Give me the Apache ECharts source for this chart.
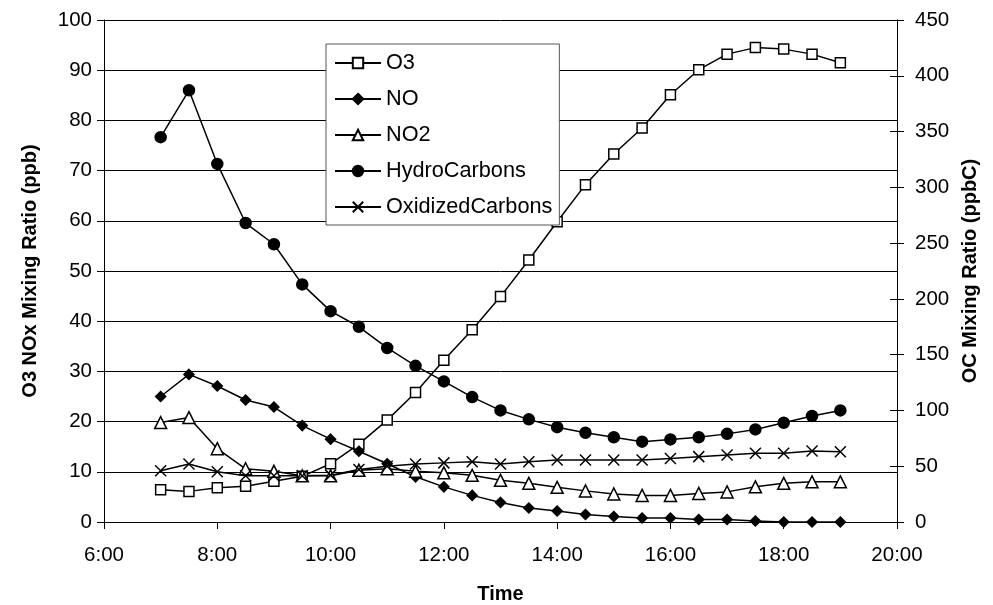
<!DOCTYPE html>
<html>
<head>
<meta charset="utf-8">
<script src="https://cdn.jsdelivr.net/npm/echarts@6/dist/echarts.min.js"></script>
<style>html,body{margin:0;padding:0;background:#fff}#c{width:993px;height:605px}</style>
</head>
<body>
<div id="c"></div>
<script>
const times = ['7:00','7:30','8:00','8:30','9:00','9:30','10:00','10:30','11:00','11:30','12:00','12:30','13:00','13:30','14:00','14:30','15:00','15:30','16:00','16:30','17:00','17:30','18:00','18:30','19:00'];
const o3 = [6.4, 6.1, 6.8, 7.1, 8.1, 9.1, 11.6, 15.5, 20.3, 25.8, 32.2, 38.3, 44.9, 52.2, 59.8, 67.2, 73.3, 78.5, 85.1, 90.1, 93.2, 94.5, 94.2, 93.2, 91.5];
const no = [25.0, 29.4, 27.1, 24.3, 22.9, 19.2, 16.5, 14.1, 11.6, 9.0, 7.0, 5.3, 3.9, 2.8, 2.2, 1.5, 1.1, 0.8, 0.8, 0.5, 0.5, 0.2, 0.0, 0.0, 0.0];
const no2 = [19.8, 20.8, 14.6, 10.6, 10.1, 9.2, 9.2, 10.3, 10.6, 10.1, 9.8, 9.3, 8.3, 7.7, 6.9, 6.2, 5.6, 5.3, 5.3, 5.7, 6.0, 7.0, 7.7, 8.0, 8.0];
const hydroCarbons = [345, 387, 321, 268, 249, 213, 189, 175, 156, 140, 126, 112, 100, 92, 85, 80, 76, 72, 74, 76, 79, 83, 89, 95, 100];
const oxidizedCarbons = [46, 52, 45, 41.5, 41.5, 41.5, 42, 47, 50, 52, 53, 54, 52, 54, 55.6, 55.6, 55.6, 55.6, 57, 58.6, 60, 61.6, 61.6, 63.6, 63];
const xTicks = ['6:00','8:00','10:00','12:00','14:00','16:00','18:00','20:00'];

function toHours(t){const p=t.split(':');return +p[0] + (+p[1])/60;}
function pairs(vals){return times.map((t,i)=>[toHours(t), vals[i]]);}

const FONT = 'Liberation Sans, Arial, sans-serif';
const chart = echarts.init(document.getElementById('c'), null, {renderer:'canvas'});
const lineStyle = {color:'#000', width:1.5};
function mk(name, vals, yi, symbol, size, fill){
  return {
    name, type:'line', yAxisIndex:yi, data:pairs(vals),
    symbol, symbolSize:size, showAllSymbol:true,
    lineStyle, itemStyle:{color:fill, borderColor:'#000', borderWidth:1.5},
    emphasis:{disabled:true}, animation:false
  };
}
const option = {
  backgroundColor:'#fff',
  animation:false,
  grid:{left:104, right:96, top:20, bottom:83, containLabel:false, outerBoundsMode:'none'},
  legend:{
    orient:'vertical', left:326, top:44,
    padding:[8,7,7,8], itemGap:14, itemWidth:46, itemHeight:13,
    backgroundColor:'#fff', borderColor:'#555', borderWidth:1,
    textStyle:{fontFamily:FONT, fontSize:21.7, color:'#000'},
    data:['O3','NO','NO2','HydroCarbons','OxidizedCarbons']
  },
  xAxis:{
    type:'value', min:6, max:20, interval:2,
    name:'Time', nameLocation:'middle', nameGap:62,
    nameTextStyle:{fontFamily:FONT, fontSize:20, fontWeight:'bold', color:'#000'},
    axisLine:{lineStyle:{color:'#000', width:1}},
    axisTick:{length:7, lineStyle:{color:'#000'}},
    axisLabel:{fontFamily:FONT, fontSize:20.5, color:'#000', margin:23,
      formatter:v=>xTicks[Math.round((v-6)/2)]},
    splitLine:{show:false}
  },
  yAxis:[
    {type:'value', min:0, max:100, interval:10, position:'left',
     name:'O3 NOx Mixing Ratio (ppb)', nameLocation:'middle', nameGap:64,
     nameTextStyle:{fontFamily:FONT, fontSize:20, fontWeight:'bold', color:'#000'},
     axisLine:{show:true, lineStyle:{color:'#000', width:1}},
     axisTick:{show:true, length:7, lineStyle:{color:'#000'}},
     axisLabel:{fontFamily:FONT, fontSize:20.5, color:'#000', margin:12},
     splitLine:{show:true, lineStyle:{color:'#000', width:1}}},
    {type:'value', min:0, max:450, interval:50, position:'right',
     name:'OC Mixing Ratio (ppbC)', nameLocation:'middle', nameGap:63,
     nameTextStyle:{fontFamily:FONT, fontSize:20, fontWeight:'bold', color:'#000'},
     axisLine:{show:true, lineStyle:{color:'#000', width:1}},
     axisTick:{show:true, length:7, lineStyle:{color:'#000'}},
     axisLabel:{fontFamily:FONT, fontSize:20.5, color:'#000', margin:18},
     splitLine:{show:false}},
    {type:'value', min:0, max:450, interval:50, position:'right',
     axisLine:{show:false},
     axisTick:{show:true, inside:true, length:7, lineStyle:{color:'#000'}},
     axisLabel:{show:false},
     splitLine:{show:false}}
  ],
  series:[
    mk('O3', o3, 0, 'rect', 10, '#fff'),
    mk('NO', no, 0, 'diamond', 10, '#000'),
    mk('NO2', no2, 0, 'triangle', 12, '#fff'),
    mk('HydroCarbons', hydroCarbons, 1, 'circle', 11, '#000'),
    mk('OxidizedCarbons', oxidizedCarbons, 1, 'path://M0,0L10,10M10,0L0,10', 11, 'none')
  ]
};
chart.setOption(option);
</script>
</body>
</html>
